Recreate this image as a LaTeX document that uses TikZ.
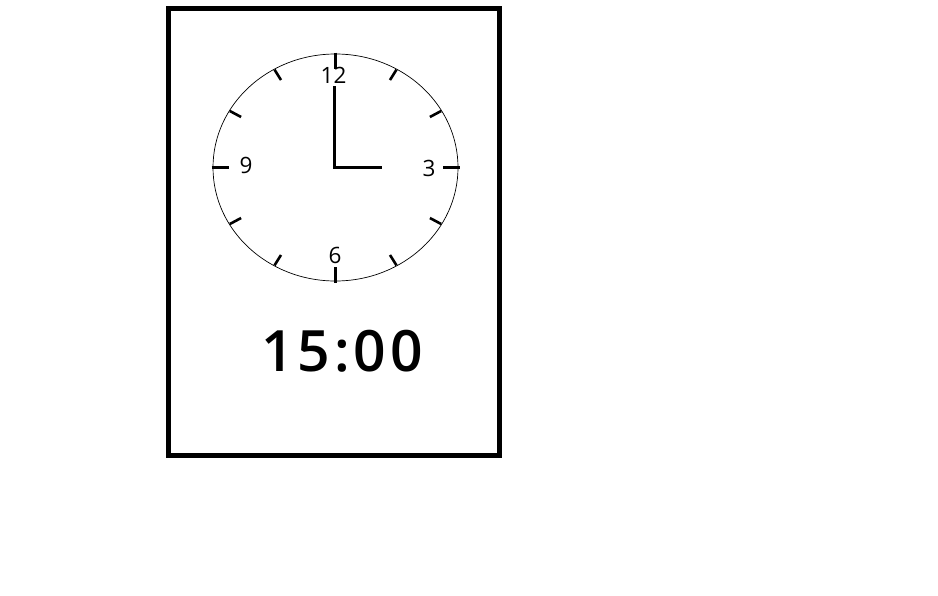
\documentclass[tikz,border=0pt]{standalone}
\usepackage{fontspec}
\usetikzlibrary{calc}
\setmainfont{Open Sans}
\newfontfamily\digitalfont[LetterSpace=7]{Open Sans Semibold}
\begin{document}
\begin{tikzpicture}[x=1pt,y=-1pt,
  frame/.style={draw=black,line width=4.7pt},
  dial/.style={draw=black,line width=0.7pt},
  tickmark/.style={draw=black,line width=2.6pt},
  handline/.style={draw=black,line width=3pt},
  numlabel/.style={font=\fontsize{22.5}{22.5}\selectfont,inner sep=0pt},
  digital/.style={font=\digitalfont\fontsize{57}{57}\selectfont,inner sep=0pt}]
\useasboundingbox (0,0) rectangle (938,595);
\fill[white] (0,0) rectangle (938,595);
% frame
\draw[frame] (168.4,8.2) rectangle (499.8,455.8);
% dial
\coordinate (c) at (335.5,167.5);
\draw[dial] (c) ellipse [x radius=122.5pt, y radius=113.5pt];
% ticks
\foreach \a in {0,90,180,270} {
  \draw[tickmark] ($(c)+({124*cos(\a)},{-115*sin(\a)})$) -- ($(c)+({107*cos(\a)},{-99*sin(\a)})$);
}
\foreach \a in {30,60,120,150,210,240,300,330} {
  \draw[tickmark] ($(c)+({122*cos(\a)},{-113*sin(\a)})$) -- ($(c)+({109*cos(\a)},{-101*sin(\a)})$);
}
% numbers
\node[numlabel] (n12) at (333.5,75) {12};
\node[numlabel] (n3) at (429,168) {3};
\node[numlabel] (n6) at (335,255) {6};
\node[numlabel] (n9) at (246,165) {9};
% hands
\coordinate (hc) at (334,167);
\coordinate (hm) at (334,86);
\coordinate (hh) at (382,167);
\draw[handline] (hm) -- (hc) -- (hh);
% digital time
\node[digital] (time) at (342,351) {15:00};
\end{tikzpicture}
\end{document}
